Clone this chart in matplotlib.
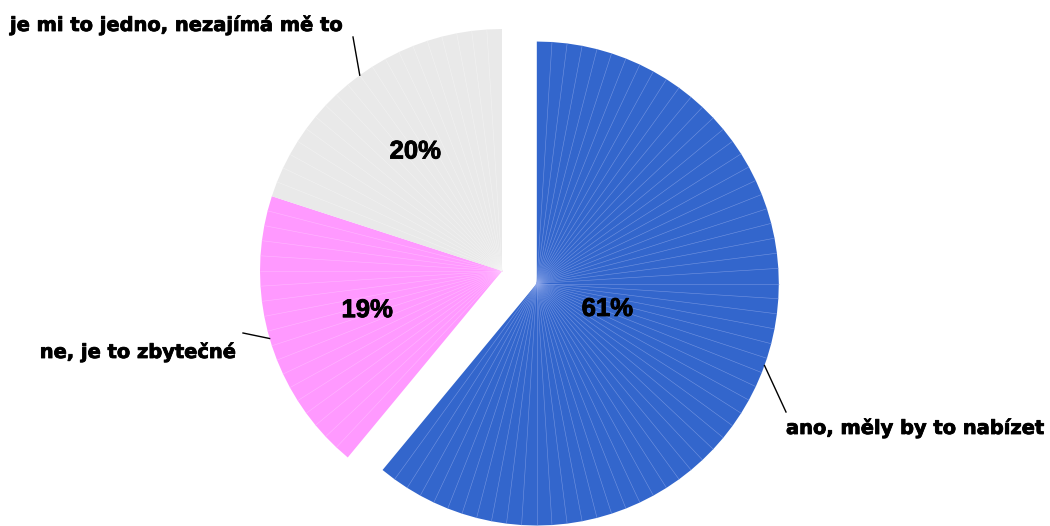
import numpy as np
import matplotlib.pyplot as plt
import matplotlib.patheffects as pe
from matplotlib.patches import Polygon

# chart data
labels = ["ano, měly by to nabízet", "ne, je to zbytečné", "je mi to jedno, nezajímá mě to"]
shares = [61, 19, 20]
pct_text = ["61%", "19%", "20%"]
colors = ["#3366cc", "#ff99ff", "#e9e9e9"]
facet_colors = ["#8fa8ea", "#ffc4ff", "#f6f6f6"]

# layout (pixels)
W, H = 1050, 526
cx, cy, R = 502, 271, 242
explode = [37, 0, 0]
pct_radius = [0.31, 0.58, 0.61]
# label text anchor (x, y, ha) and leader line end
label_pos = [(786, 428, "left"), (237, 352, "right"), (10, 25, "left")]
leader_end = [(786, 412), (243, 333), (353, 37)]


def to_xy(ang_deg, r, ox, oy):
    # clockwise from 12 o'clock, y axis points down
    a = np.radians(ang_deg)
    return ox + r * np.sin(a), oy - r * np.cos(a)


fig = plt.figure(figsize=(W / 100, H / 100), dpi=100)
ax = fig.add_axes([0, 0, 1, 1])
ax.set_xlim(0, W)
ax.set_ylim(H, 0)
ax.axis("off")

heavy = [pe.withStroke(linewidth=0.6, foreground="black")]

start = 0.0
total = sum(shares)
for i, val in enumerate(shares):
    span = 360.0 * val / total
    mid = start + span / 2
    dx, dy = to_xy(mid, explode[i], 0, 0)
    ox, oy = cx + dx, cy + dy
    n = int(round(val))
    angs = start + np.arange(n + 1) * span / n
    rim = [to_xy(a, R, ox, oy) for a in angs]
    ax.add_patch(Polygon([(ox, oy)] + rim, closed=True, facecolor=colors[i],
                         edgecolor="none", zorder=2))
    # thin facet lines
    for px_, py_ in rim[1:-1]:
        ax.plot([ox, px_], [oy, py_], color=facet_colors[i], linewidth=0.4,
                alpha=0.7, zorder=3)
    px, py = to_xy(mid, pct_radius[i] * R, ox, oy)
    ax.text(px, py, pct_text[i], ha="center", va="center", fontsize=18.5,
            fontweight="bold", family="Liberation Sans", color="black", zorder=5,
            path_effects=heavy)
    ex, ey = to_xy(mid, R, ox, oy)
    lx, ly = leader_end[i]
    ax.plot([ex, lx], [ey, ly], color="black", linewidth=1, zorder=4)
    tx, ty, ha = label_pos[i]
    ax.text(tx, ty, labels[i], ha=ha, va="center", fontsize=14.0,
            fontweight="bold", family="DejaVu Sans", color="black", zorder=5,
            path_effects=heavy)
    start += span

fig.savefig("out.png", dpi=100)
